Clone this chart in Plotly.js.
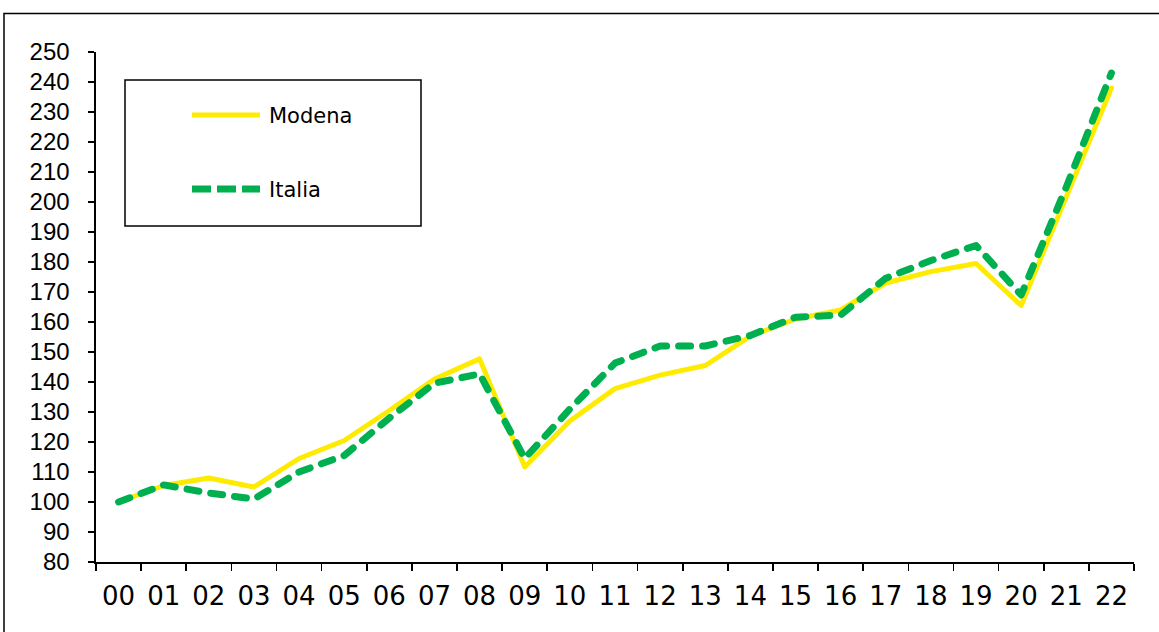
<!DOCTYPE html>
<html>
<head>
<meta charset="utf-8">
<script src="https://cdn.plot.ly/plotly-3.0.1.min.js"></script>
<style>
  html, body { margin: 0; padding: 0; background: #ffffff; }
  #chart { width: 1159px; height: 632px; }
  .scatterlayer .js-line { stroke-linecap: round; stroke-linejoin: round; }
</style>
</head>
<body>
<div id="chart"></div>
<script>
// ---- data ----
const years = ["00","01","02","03","04","05","06","07","08","09","10","11","12","13","14","15","16","17","18","19","20","21","22"];
const modena = [100, 105.5, 108, 105, 114.5, 120.5, 130.5, 141, 147.7, 111.7, 127, 137.8, 142.3, 145.5, 155.3, 161, 164, 173, 176.8, 179.5, 165.5, 201.5, 238];
const italia = [100, 105.7, 103, 101, 110, 115.5, 128, 139.6, 142.7, 114.5, 131, 146.3, 152, 152, 155.5, 161.6, 162.3, 174.6, 180.5, 185.5, 169, 205, 243];
const seriesNames = ["Modena", "Italia"];
const yTicks = [80, 90, 100, 110, 120, 130, 140, 150, 160, 170, 180, 190, 200, 210, 220, 230, 240, 250];

const yellow = "#FFEB00";
const green = "#00B050";

const traces = [
  { x: years, y: modena, name: seriesNames[0], type: "scatter", mode: "lines",
    line: { color: yellow, width: 5 }, showlegend: false, hoverinfo: "x+y+name" },
  { x: years, y: italia, name: seriesNames[1], type: "scatter", mode: "lines",
    line: { color: green, width: 7, dash: "12px,12px" }, showlegend: false, hoverinfo: "x+y+name" }
];

// plot area: x 96..1134, y 52..562
const L = 96, R = 1134, T = 52, B = 562;
const px = v => (v - L) / (R - L);
const py = v => (B - v) / (B - T);

const layout = {
  width: 1159, height: 632,
  margin: { l: L, r: 1159 - R, t: T, b: 632 - B },
  paper_bgcolor: "#ffffff", plot_bgcolor: "#ffffff",
  showlegend: false,
  xaxis: {
    type: "category", categoryorder: "array", categoryarray: years,
    range: [-0.5, years.length - 0.5],
    showline: true, linecolor: "#000", linewidth: 1.6,
    ticks: "outside", tickson: "boundaries", ticklen: 7, tickwidth: 1.6, tickcolor: "#000",
    showgrid: false, zeroline: false,
    tickfont: { family: "DejaVu Sans", size: 26, color: "#000" },
    ticklabelstandoff: 10
  },
  yaxis: {
    range: [80, 250], tickvals: yTicks, ticktext: yTicks.map(String),
    showline: true, linecolor: "#000", linewidth: 1.6,
    ticks: "outside", ticklen: 6, tickwidth: 1.6, tickcolor: "#000",
    showgrid: false, zeroline: false,
    tickfont: { family: "Liberation Sans", size: 24, color: "#000" },
    ticklabelstandoff: 14
  },
  shapes: [
    // outer chart border (left + top visible)
    { type: "rect", xref: "paper", yref: "paper", x0: px(4), x1: px(1200), y0: py(680), y1: py(13.5),
      line: { color: "#000", width: 1.5 }, fillcolor: "rgba(0,0,0,0)", layer: "below" },
    // legend box
    { type: "rect", xref: "paper", yref: "paper", x0: px(125), x1: px(421), y0: py(226), y1: py(80),
      line: { color: "#000", width: 1.5 }, fillcolor: "#ffffff" },
    // legend samples
    { type: "line", xref: "paper", yref: "paper", x0: px(192), x1: px(260), y0: py(115), y1: py(115),
      line: { color: yellow, width: 5 } },
    { type: "line", xref: "paper", yref: "paper", x0: px(192), x1: px(260), y0: py(189), y1: py(189),
      line: { color: green, width: 7, dash: "19px,6px" } }
  ],
  annotations: [
    { xref: "paper", yref: "paper", x: px(267), y: py(116), xanchor: "left", yanchor: "middle",
      text: seriesNames[0], showarrow: false, font: { family: "DejaVu Sans", size: 21, color: "#000" } },
    { xref: "paper", yref: "paper", x: px(267), y: py(190), xanchor: "left", yanchor: "middle",
      text: seriesNames[1], showarrow: false, font: { family: "DejaVu Sans", size: 21, color: "#000" } }
  ]
};

Plotly.newPlot("chart", traces, layout, { displayModeBar: false, staticPlot: true });
</script>
</body>
</html>
